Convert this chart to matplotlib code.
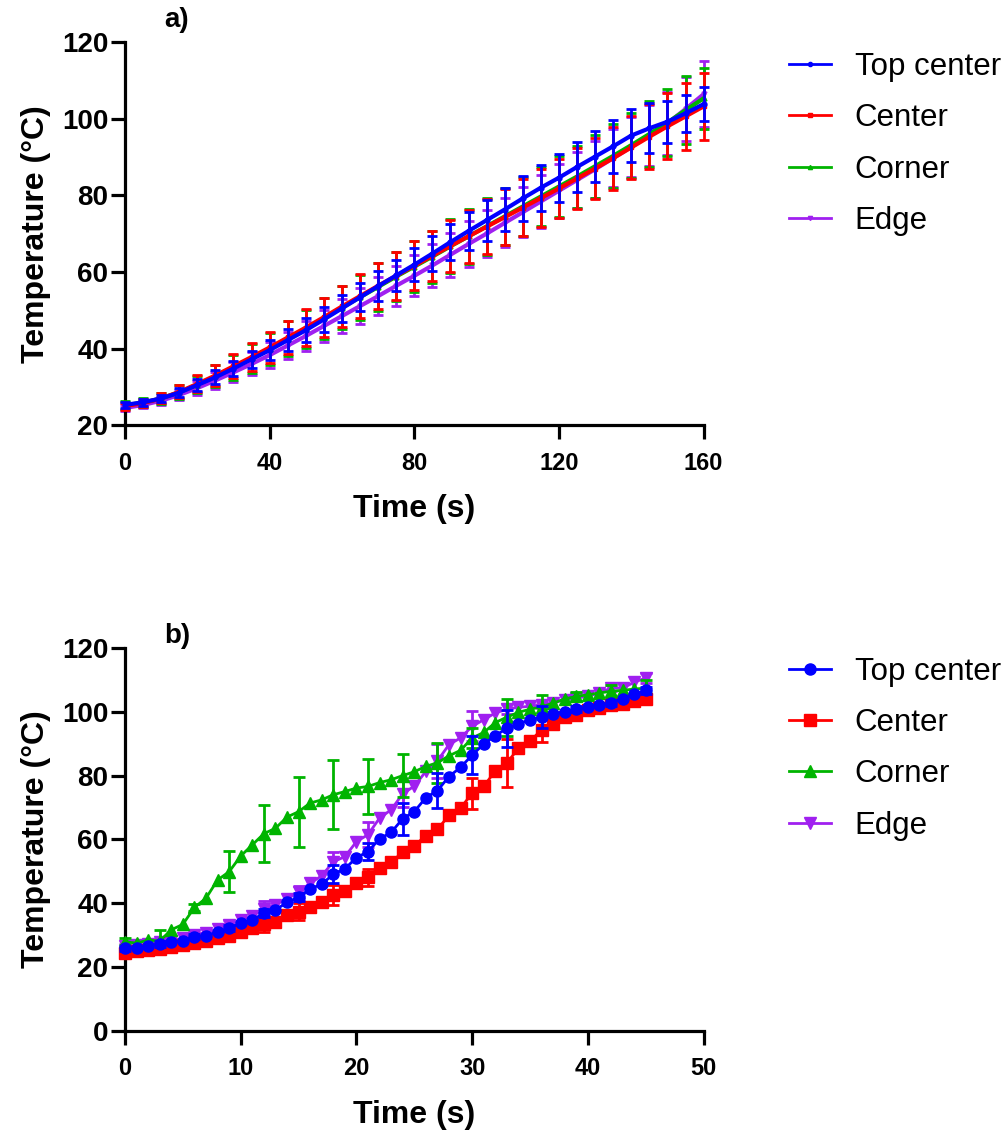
import matplotlib
matplotlib.use('Agg')
import matplotlib.pyplot as plt
from matplotlib.lines import Line2D

# ---------- DATA ----------
labels = ['Top center', 'Center', 'Corner', 'Edge']
colors = ['#0000FF', '#FF0000', '#00B400', '#A020F0']

# a) heating ramp, sampled every 5 s
time_a = list(range(0, 161, 5))
top_center_a = [25.3, 26.0, 27.0, 28.5, 30.5, 32.5, 34.8, 37.2, 39.6, 42.2, 44.8, 47.6, 50.5,
                53.4, 56.3, 59.1, 61.9, 64.8, 67.8, 70.7, 73.5, 76.3, 79.2, 82.0, 84.6, 87.4,
                90.1, 92.8, 95.6, 97.5, 99.2, 101.4, 103.8]
center_a = [25.0, 25.8, 27.0, 28.7, 30.8, 33.0, 35.4, 37.8, 40.3, 42.9, 45.5, 48.2, 51.0,
            53.7, 56.4, 59.0, 61.6, 64.2, 66.8, 69.3, 71.8, 74.3, 76.8, 79.3, 81.8, 84.4,
            87.0, 89.7, 92.5, 95.3, 98.0, 100.6, 103.2]
corner_a = [25.2, 25.9, 27.0, 28.6, 30.6, 32.8, 35.1, 37.5, 40.0, 42.6, 45.2, 47.9, 50.7,
            53.4, 56.1, 58.8, 61.4, 64.0, 66.7, 69.3, 71.9, 74.5, 77.1, 79.7, 82.3, 84.9,
            87.6, 90.3, 93.1, 96.0, 99.0, 102.2, 105.3]
edge_a = [24.5, 25.3, 26.4, 27.9, 29.7, 31.7, 33.8, 36.0, 38.3, 40.8, 43.3, 45.9, 48.5,
          51.1, 53.7, 56.4, 59.0, 61.7, 64.5, 67.3, 70.0, 72.8, 75.6, 78.4, 81.2, 84.0,
          86.8, 89.7, 92.6, 95.6, 98.8, 102.5, 106.4]
top_center_a_err = [0.8, 0.9, 1.0, 1.2, 1.5, 1.8, 2.0, 2.3, 2.6, 2.9, 3.1, 3.3, 3.5, 3.7, 3.9,
                    4.1, 4.3, 4.5, 4.8, 5.0, 5.3, 5.5, 5.8, 6.0, 6.3, 6.5, 6.7, 6.9, 7.0, 6.5,
                    5.5, 4.8, 4.4]
center_a_err = [0.9, 1.0, 1.3, 1.7, 2.2, 2.7, 3.2, 3.6, 4.0, 4.4, 4.8, 5.1, 5.4, 5.7, 6.0, 6.2,
                6.4, 6.6, 6.8, 7.0, 7.2, 7.3, 7.5, 7.6, 7.8, 7.9, 8.0, 8.2, 8.3, 8.5, 8.6, 8.7,
                8.8]
corner_a_err = [1.0, 1.1, 1.4, 1.8, 2.3, 2.8, 3.3, 3.8, 4.2, 4.6, 5.0, 5.3, 5.6, 5.9, 6.2, 6.4,
                6.6, 6.8, 7.0, 7.2, 7.4, 7.5, 7.7, 7.8, 8.0, 8.1, 8.2, 8.4, 8.5, 8.7, 8.8, 8.9,
                8.0]
edge_a_err = [0.8, 0.9, 1.1, 1.4, 1.8, 2.2, 2.6, 3.0, 3.3, 3.6, 3.9, 4.2, 4.5, 4.7, 5.0, 5.2,
              5.4, 5.6, 5.8, 6.0, 6.2, 6.4, 6.6, 6.8, 7.0, 7.2, 7.4, 7.6, 7.8, 8.0, 8.2, 8.4,
              8.6]

# b) sampled every 1 s, error bars every 3 s
time_b = list(range(0, 46))
top_center_b = [25.9, 26.1, 26.7, 27.2, 27.8, 28.3, 29.6, 29.9, 31.1, 32.2, 33.8, 34.8, 36.9,
                37.9, 40.3, 41.9, 44.5, 46.0, 49.1, 50.8, 54.3, 56.2, 60.2, 62.2, 66.5, 68.7,
                73.1, 75.3, 79.7, 82.6, 86.4, 89.9, 92.5, 94.8, 96.2, 97.5, 98.3, 99.3, 100.0,
                100.8, 101.4, 102.2, 102.7, 104.1, 105.5, 106.7]
center_b = [24.5, 25.1, 25.4, 25.7, 26.2, 27.0, 27.5, 28.2, 29.0, 29.9, 31.1, 32.2, 33.5, 34.3,
            36.2, 37.4, 39.0, 40.5, 42.6, 44.0, 46.5, 48.2, 51.2, 52.9, 56.0, 58.0, 61.2, 63.2,
            67.5, 69.8, 74.5, 76.6, 81.5, 83.9, 88.6, 90.7, 94.4, 96.2, 98.5, 99.1, 100.4,
            101.2, 102.0, 102.5, 103.5, 104.1]
corner_b = [28.0, 27.5, 28.5, 28.2, 31.7, 33.4, 38.7, 41.6, 47.3, 49.9, 54.8, 58.3, 61.8, 63.5,
            67.0, 68.7, 71.4, 72.4, 74.0, 75.0, 76.1, 76.6, 77.8, 78.7, 80.0, 81.2, 82.9, 84.0,
            86.2, 87.9, 91.8, 93.5, 96.6, 98.3, 99.8, 100.8, 101.5, 102.7, 104.0, 104.8, 105.3,
            105.9, 106.4, 106.7, 107.1, 107.4]
edge_b = [26.5, 26.8, 27.3, 27.8, 28.3, 29.0, 30.2, 30.8, 32.0, 33.3, 34.8, 36.0, 38.3, 39.5,
          41.5, 43.5, 46.3, 48.6, 53.0, 54.6, 59.3, 61.5, 66.7, 69.3, 74.3, 76.7, 81.3, 84.6,
          89.7, 91.8, 95.4, 97.5, 99.6, 100.8, 101.4, 101.7, 102.2, 102.7, 103.8, 104.3, 104.8,
          105.9, 107.4, 107.4, 109.2, 110.6]
# errors at t = 0, 3, 6, ..., 45
top_center_b_err = [0.8, 1.0, 0.8, 1.0, 1.2, 1.3, 2.8, 2.7, 5.0, 5.4, 6.0, 5.8, 3.4, 1.0, 1.0, 1.0]
center_b_err = [0.8, 0.8, 1.0, 1.5, 2.5, 2.6, 3.0, 2.7, 1.5, 1.0, 4.9, 7.6, 3.9, 1.0, 1.0, 1.2]
corner_b_err = [1.0, 3.4, 1.0, 6.4, 9.0, 11.0, 10.8, 8.7, 6.7, 6.3, 3.1, 5.8, 3.7, 1.5, 2.0, 2.5]
edge_b_err = [0.8, 0.8, 1.0, 1.5, 2.5, 2.0, 3.0, 4.0, 4.0, 5.4, 4.7, 1.5, 1.0, 1.0, 1.0, 1.5]
# --------------------------

plt.rcParams['font.family'] = ['Liberation Sans', 'DejaVu Sans']

fig = plt.figure(figsize=(10.08, 11.37), dpi=100)
ax_a = fig.add_axes([0.124, 0.626, 0.574, 0.337])
ax_b = fig.add_axes([0.124, 0.0932, 0.574, 0.337])


def style_axis(ax):
    for side in ['top', 'right']:
        ax.spines[side].set_visible(False)
    for side in ['left', 'bottom']:
        ax.spines[side].set_linewidth(2.3)
    ax.tick_params(width=2.3, length=10, direction='out')
    ax.tick_params(axis='y', labelsize=20, pad=2)
    ax.tick_params(axis='x', labelsize=17, pad=9)
    for lab in ax.get_xticklabels() + ax.get_yticklabels():
        lab.set_fontweight('bold')
    ax.set_ylabel('Temperature (°C)', fontsize=23, fontweight='bold', labelpad=8)
    ax.set_xlabel('Time (s)', fontsize=23, fontweight='bold', labelpad=14)


def add_legend(ax, markers, msize, top):
    handles = [Line2D([], [], color=c, marker=m, markersize=msize, linewidth=2)
               for c, m in zip(colors, markers)]
    ax.legend(handles, labels, loc='upper left', bbox_to_anchor=(0.755, top),
              bbox_transform=fig.transFigure, frameon=False, fontsize=22.5,
              handlelength=1.35, handletextpad=0.75, labelspacing=0.68)


# ---- panel a ----
series_a = [top_center_a, center_a, corner_a, edge_a]
errs_a = [top_center_a_err, center_a_err, corner_a_err, edge_a_err]
markers_a = ['o', 's', '^', 'v']
zorders = [5, 4, 3, 2]
for vals, err, c, m, z in zip(series_a, errs_a, colors, markers_a, zorders):
    ax_a.errorbar(time_a, vals, yerr=err, color=c, marker=m, markersize=3.5, linewidth=3,
                  elinewidth=2, capsize=3.5, capthick=2, zorder=z, clip_on=False)
ax_a.set_xlim(0, 160)
ax_a.set_ylim(20, 120)
ax_a.set_xticks([0, 40, 80, 120, 160])
ax_a.set_yticks([20, 40, 60, 80, 100, 120])
style_axis(ax_a)
add_legend(ax_a, markers_a, 3, 0.979)
fig.text(0.163, 0.982, 'a)', fontsize=20, fontweight='bold', va='center')

# ---- panel b ----
series_b = [top_center_b, center_b, corner_b, edge_b]
errs_b = [top_center_b_err, center_b_err, corner_b_err, edge_b_err]
markers_b = ['o', 's', '^', 'v']
err_idx = list(range(0, 46, 3))
for vals, err, c, m, z in zip(series_b, errs_b, colors, markers_b, zorders):
    ax_b.plot(time_b, vals, color=c, marker=m, markersize=8, linewidth=2,
              zorder=z, clip_on=False)
    ax_b.errorbar([time_b[i] for i in err_idx], [vals[i] for i in err_idx], yerr=err,
                  fmt='none', ecolor=c, elinewidth=2, capsize=4, capthick=2,
                  zorder=z - 0.5, clip_on=False)
ax_b.set_xlim(0, 50)
ax_b.set_ylim(0, 120)
ax_b.set_xticks([0, 10, 20, 30, 40, 50])
ax_b.set_yticks([0, 20, 40, 60, 80, 100, 120])
style_axis(ax_b)
add_legend(ax_b, markers_b, 8, 0.447)
fig.text(0.163, 0.441, 'b)', fontsize=20, fontweight='bold', va='center')

fig.savefig('out.png', dpi=100)
